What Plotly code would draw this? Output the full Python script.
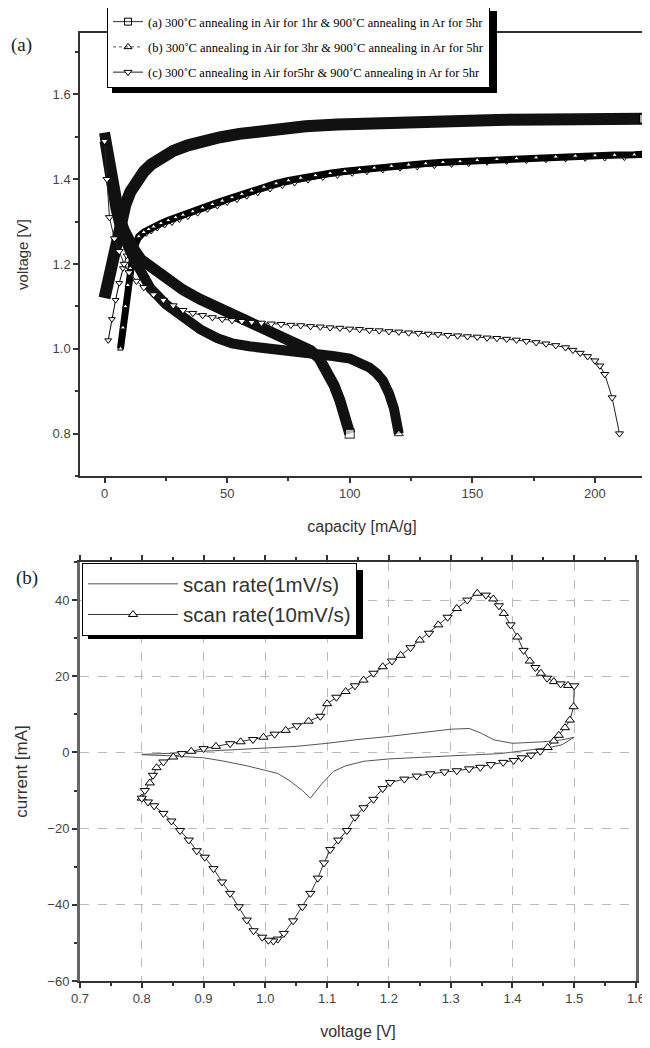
import plotly.graph_objects as go

# ---------------- panel (a): charge / discharge curves ----------------
# series (a): 1 hr air anneal (squares)
cap_a_dis = [0, 1, 2, 3, 4.5, 6, 8, 10, 12, 15, 18.7, 25, 32, 39, 46, 52, 59, 66, 73, 79, 84, 87.5, 90.6, 93.5, 96, 98, 100]
v_a_dis = [1.51, 1.47, 1.43, 1.395, 1.35, 1.315, 1.28, 1.255, 1.235, 1.21, 1.193, 1.163, 1.139, 1.117, 1.098, 1.08, 1.06, 1.043, 1.027, 1.012, 0.996, 0.978, 0.949, 0.915, 0.878, 0.84, 0.80]
cap_a_chg = [0, 1, 2, 3, 4, 5, 6, 7, 8.5, 10.5, 13, 16, 19, 23, 28, 34, 40, 47, 55, 63, 72, 82, 95, 110, 125, 140, 160, 180, 200, 220]
v_a_chg = [1.12, 1.15, 1.18, 1.21, 1.24, 1.265, 1.29, 1.31, 1.34, 1.37, 1.395, 1.418, 1.435, 1.452, 1.467, 1.48, 1.49, 1.499, 1.507, 1.514, 1.52, 1.525, 1.529, 1.533, 1.536, 1.538, 1.54, 1.541, 1.542, 1.543]

# series (b): 3 hr air anneal (up triangles)
cap_b_dis = [0, 1, 2, 3, 4.5, 6, 8, 10, 12, 15, 18.7, 25, 32, 39, 46, 52, 59, 66, 73, 80, 86.6, 93, 100, 104, 108, 111, 113.5, 116, 118, 120]
v_b_dis = [1.49, 1.45, 1.41, 1.375, 1.33, 1.295, 1.26, 1.235, 1.212, 1.175, 1.143, 1.105, 1.072, 1.046, 1.025, 1.013, 1.006, 1.002, 0.999, 0.994, 0.989, 0.983, 0.977, 0.968, 0.956, 0.942, 0.925, 0.895, 0.86, 0.80]
cap_b_chg = [6.5, 7.5, 8.5, 9.5, 10.5, 11.5, 12.5, 14, 16, 18, 20, 23, 26, 29, 32, 36, 40, 44, 48, 52, 56, 60, 65, 70, 75, 80, 86, 92, 98, 104, 110, 117, 124, 131, 138, 145, 152, 160, 168, 176, 184, 192, 200, 208, 216, 220]
v_b_chg = [1.00, 1.05, 1.10, 1.15, 1.19, 1.22, 1.245, 1.265, 1.275, 1.282, 1.288, 1.296, 1.303, 1.31, 1.316, 1.324, 1.333, 1.341, 1.349, 1.357, 1.365, 1.373, 1.382, 1.39, 1.397, 1.403, 1.409, 1.414, 1.419, 1.423, 1.427, 1.431, 1.434, 1.437, 1.44, 1.442, 1.445, 1.447, 1.449, 1.451, 1.453, 1.455, 1.456, 1.457, 1.458, 1.459]

# series (c): 5 hr air anneal (down triangles)
cap_c_dis = [0, 1, 2, 4, 6, 8, 10, 13, 16, 20,
             24, 28, 32, 36, 40, 44, 48, 52, 56, 60, 64, 68, 72, 76, 80, 84, 88, 92, 96, 100, 104,
             108, 112, 116, 120, 124, 128, 132, 136, 140, 144, 148, 152, 156, 160, 164, 168, 172, 176, 180,
             184, 188, 191, 194, 197, 200, 202, 204, 207, 210]
v_c_dis = [1.49, 1.40, 1.31, 1.26, 1.23, 1.20, 1.18, 1.16, 1.145, 1.128,
           1.115, 1.102, 1.091, 1.084, 1.079, 1.074, 1.07, 1.067, 1.065, 1.063, 1.061, 1.059, 1.058, 1.056, 1.055, 1.053, 1.052, 1.050, 1.049, 1.047, 1.046,
           1.044, 1.043, 1.041, 1.040, 1.038, 1.037, 1.035, 1.034, 1.032, 1.031, 1.029, 1.028, 1.026, 1.025, 1.023, 1.021, 1.018, 1.015, 1.012,
           1.008, 1.003, 0.997, 0.990, 0.982, 0.972, 0.960, 0.940, 0.885, 0.80]
cap_c_chg = [1.5, 3, 4.5, 6, 7.5, 9, 11, 13, 15, 17, 19, 21.5, 24.5, 27.5, 30.5, 34, 38, 42, 46, 50, 54, 58, 62.5, 67.5, 72.5, 77.5, 83, 89, 95, 101, 107, 113.5, 120.5, 127.5, 134.5, 141.5, 148.5, 156, 164, 172, 180, 188, 196, 204, 212, 220]
v_c_chg = [1.02, 1.07, 1.115, 1.155, 1.19, 1.22, 1.24, 1.255, 1.265, 1.272, 1.278, 1.285, 1.292, 1.298, 1.305, 1.312, 1.32, 1.329, 1.337, 1.345, 1.352, 1.36, 1.368, 1.377, 1.385, 1.391, 1.398, 1.404, 1.409, 1.414, 1.418, 1.422, 1.426, 1.429, 1.432, 1.435, 1.437, 1.44, 1.442, 1.444, 1.446, 1.448, 1.449, 1.45, 1.451, 1.452]

names_a = ["(a) 300\u02daC annealing in Air for 1hr & 900\u02daC annealing in Ar for 5hr",
           "(b) 300\u02daC annealing in Air for 3hr & 900\u02daC annealing in Ar for 5hr",
           "(c) 300\u02daC annealing in Air for5hr & 900\u02daC annealing in Ar for 5hr"]

# ---------------- panel (b): cyclic voltammetry ----------------
cv1_v = [0.80, 0.85, 0.90, 0.95, 1.00, 1.05, 1.10, 1.15, 1.20, 1.25, 1.30, 1.33, 1.35, 1.37, 1.40, 1.45, 1.48, 1.50,
         1.48, 1.46, 1.42, 1.38, 1.30, 1.25, 1.20, 1.16, 1.13, 1.11, 1.09, 1.073, 1.06, 1.04, 1.02, 1.00, 0.97, 0.93, 0.90, 0.85, 0.80]
cv1_i = [-0.5, -0.2, 0.3, 0.8, 1.2, 1.6, 2.4, 3.4, 4.2, 5.2, 6.1, 6.3, 5.0, 3.3, 2.4, 2.8, 3.3, 4.0,
         2.0, 1.3, 0.5, -0.3, -0.9, -1.3, -1.7, -2.3, -3.5, -5.0, -8.5, -12.0, -10.0, -7.5, -5.5, -4.7, -3.5, -2.2, -1.4, -0.9, -0.6]

cv10_v_up = [0.800, 0.805, 0.813, 0.818, 0.824, 0.835, 0.851, 0.865, 0.88, 0.90, 0.92, 0.943, 0.96, 0.98, 0.997, 1.015, 1.033, 1.051, 1.07, 1.089,
             1.10, 1.115, 1.13, 1.145, 1.159, 1.175, 1.19, 1.205, 1.219, 1.235, 1.25, 1.265, 1.28, 1.295, 1.31, 1.327, 1.343, 1.357, 1.369, 1.378,
             1.386, 1.397, 1.408, 1.418, 1.428, 1.437, 1.446, 1.456, 1.467, 1.478, 1.49, 1.50]
cv10_i_up = [-12, -10, -8, -6, -4, -2.5, -1.2, -0.3, 0.3, 1.0, 1.6, 2.3, 2.8, 3.4, 4.0, 4.8, 5.8, 7.0, 8.2, 9.5,
             12.8, 14.5, 16, 17.5, 19, 20.8, 22.5, 24, 25.5, 27.5, 29.5, 31.3, 33.5, 35.5, 37.8, 40, 41.8, 41.3, 40.3, 38.5,
             36.5, 33.5, 30.3, 26.8, 24, 22.3, 20.8, 19.5, 18.6, 18.0, 17.6, 17.5]
cv10_v_dn = [1.499, 1.493, 1.485, 1.475, 1.467, 1.457, 1.445, 1.43, 1.415, 1.402, 1.385, 1.365, 1.348, 1.33, 1.31, 1.29, 1.267, 1.245, 1.225, 1.202,
             1.19, 1.175, 1.159, 1.145, 1.132, 1.118, 1.105, 1.095, 1.085, 1.073, 1.06, 1.045, 1.03, 1.02, 1.013, 1.005, 0.995, 0.981, 0.97, 0.957,
             0.943, 0.93, 0.916, 0.902, 0.889, 0.876, 0.862, 0.848, 0.835, 0.82, 0.81, 0.80]
cv10_i_dn = [12, 8.5, 6.5, 4.5, 3, 1.3, 0.3, -0.7, -1.4, -2.1, -2.6, -3.2, -3.9, -4.3, -4.8, -5.1, -5.6, -6.2, -7, -7.9,
             -9.5, -12.3, -14.5, -17, -20.5, -23, -25.5, -29, -33, -37, -40.5, -44.2, -47.5, -49, -49.5, -49.3, -48.5, -46.8, -44, -40.5,
             -37, -34, -30.5, -27.5, -25.8, -23, -20.5, -18, -16, -14, -13, -12]

# page body adds an 8 px margin, so the figure is 8 px smaller than the window
OFF = 8
W, H = 650 - OFF, 1048 - OFF
def fx(p):
    return (p - OFF) / W
def fy(p):
    return 1 - (p - OFF) / H

fig = go.Figure()

def end_marker(n, size):
    return [0] * (n - 1) + [size], [0] * (n - 1) + [1.2]

# (c) charge (thin, hollow down triangles)
fig.add_trace(go.Scatter(x=cap_c_chg, y=v_c_chg, mode="lines+markers",
                         line=dict(color="black", width=1),
                         marker=dict(symbol="triangle-down", size=6, color="white",
                                     line=dict(color="black", width=1)),
                         showlegend=False, xaxis="x", yaxis="y", legendgroup="c"))
# (b) charge (dense triangles -> dark band with white dots)
fig.add_trace(go.Scatter(x=cap_b_chg, y=v_b_chg, mode="lines+markers",
                         line=dict(color="black", width=7),
                         marker=dict(symbol="triangle-up", size=5, color="white",
                                     line=dict(color="black", width=1)),
                         cliponaxis=False,
                         showlegend=False, xaxis="x", yaxis="y", legendgroup="b"))
# (b) discharge band
s, w = end_marker(len(cap_b_dis), 8)
fig.add_trace(go.Scatter(x=cap_b_dis, y=v_b_dis, mode="lines+markers",
                         line=dict(color="#111", width=10),
                         marker=dict(symbol="triangle-up", size=s, color="white",
                                     line=dict(color="black", width=w)),
                         showlegend=False, xaxis="x", yaxis="y", legendgroup="b"))
# (a) discharge band
s, w = end_marker(len(cap_a_dis), 9)
fig.add_trace(go.Scatter(x=cap_a_dis, y=v_a_dis, mode="lines+markers",
                         line=dict(color="#111", width=11),
                         marker=dict(symbol="square", size=s, color="white",
                                     line=dict(color="black", width=w)),
                         showlegend=False, xaxis="x", yaxis="y", legendgroup="a"))
# (a) charge band
s, w = end_marker(len(cap_a_chg), 9)
fig.add_trace(go.Scatter(x=cap_a_chg, y=v_a_chg, mode="lines+markers",
                         line=dict(color="#111", width=12),
                         marker=dict(symbol="square", size=s, color="white",
                                     line=dict(color="black", width=w)),
                         cliponaxis=False,
                         showlegend=False, xaxis="x", yaxis="y", legendgroup="a"))
# (c) discharge
fig.add_trace(go.Scatter(x=cap_c_dis, y=v_c_dis, mode="lines+markers", name=names_a[2],
                         line=dict(color="#222", width=1),
                         marker=dict(symbol="triangle-down", size=7, color="white",
                                     line=dict(color="black", width=1)),
                         xaxis="x", yaxis="y", legend="legend", legendgroup="c", legendrank=3))
# legend entries for (a) and (b)
fig.add_trace(go.Scatter(x=[None], y=[None], mode="lines+markers", name=names_a[0],
                         line=dict(color="#333", width=1),
                         marker=dict(symbol="square-open", size=7, color="black", line=dict(width=1)),
                         xaxis="x", yaxis="y", legend="legend", legendgroup="a", legendrank=1))
fig.add_trace(go.Scatter(x=[None], y=[None], mode="lines+markers", name=names_a[1],
                         line=dict(color="#555", width=1, dash="dot"),
                         marker=dict(symbol="triangle-up-open", size=7, color="black", line=dict(width=1)),
                         xaxis="x", yaxis="y", legend="legend", legendgroup="b", legendrank=2))

# ---- panel (b) traces
fig.add_trace(go.Scatter(x=cv1_v, y=cv1_i, mode="lines", name="scan rate(1mV/s)",
                         line=dict(color="#555", width=1),
                         xaxis="x2", yaxis="y2", legend="legend2", legendgroup="s1"))
cv10_v = cv10_v_up + cv10_v_dn
cv10_i = cv10_i_up + cv10_i_dn
sym = ["triangle-up"] + [("triangle-down" if k % 2 else "triangle-up") for k in range(1, len(cv10_v_up))] \
      + [("triangle-up" if k < 6 else "triangle-down") for k in range(len(cv10_v_dn))]
fig.add_trace(go.Scatter(x=cv10_v, y=cv10_i, mode="lines+markers", name="scan rate(10mV/s)",
                         line=dict(color="#333", width=1),
                         marker=dict(symbol=sym, size=8, color="white", line=dict(color="black", width=1)),
                         xaxis="x2", yaxis="y2", legend="legend2", legendgroup="s10"))

tickfont = dict(family="Liberation Sans, Arial", size=13, color="#444")
titlefont = dict(family="Liberation Sans, Arial", size=16, color="#333")

fig.update_layout(
    width=W, height=H,
    margin=dict(l=0, r=0, t=0, b=0, autoexpand=False),
    paper_bgcolor="white", plot_bgcolor="white",
    xaxis=dict(domain=[fx(80), fx(644)], range=[-10, 220], anchor="y",
               tickvals=[0, 50, 100, 150, 200], ticks="outside", ticklen=5, tickwidth=1.5,
               tickcolor="#333", showline=True, linecolor="#333", linewidth=1.5, mirror=True,
               showgrid=False, zeroline=False, tickfont=tickfont, automargin=False,
               minor=dict(ticks="outside", ticklen=3, tickcolor="#333", dtick=25, tick0=0, showgrid=False),
               title=dict(text="capacity [mA/g]", font=titlefont, standoff=20)),
    yaxis=dict(domain=[fy(476), fy(33)], range=[0.7, 1.745], anchor="x",
               tickvals=[0.8, 1.0, 1.2, 1.4, 1.6], ticktext=["0.8", "1.0", "1.2", "1.4", "1.6"],
               ticks="outside", ticklen=5, tickwidth=1.5, automargin=False,
               tickcolor="#333", showline=True, linecolor="#333", linewidth=1.5, mirror=True,
               showgrid=False, zeroline=False, tickfont=tickfont,
               minor=dict(ticks="outside", ticklen=3, tickcolor="#333", dtick=0.1, tick0=0.7, showgrid=False),
               title=dict(text="voltage [V]", font=dict(family="Liberation Sans, Arial", size=15, color="#333"), standoff=20)),
    xaxis2=dict(domain=[fx(80), fx(636)], range=[0.7, 1.6], anchor="y2",
                dtick=0.1, tick0=0.7, tickformat=".1f", ticks="outside", ticklen=5, tickwidth=1.5,
                tickcolor="#333", showline=True, linecolor="#333", linewidth=1.5, mirror="allticks",
                showgrid=True, gridcolor="#bbb", griddash="dash", gridwidth=1, automargin=False,
                zeroline=False, tickfont=tickfont,
                minor=dict(ticks="outside", ticklen=3, tickcolor="#333", dtick=0.05, tick0=0.7, showgrid=False),
                title=dict(text="voltage [V]", font=titlefont, standoff=20)),
    yaxis2=dict(domain=[fy(981), fy(562)], range=[-60, 50], anchor="x2",
                tickvals=[-60, -40, -20, 0, 20, 40], ticks="outside", ticklen=5, tickwidth=1.5,
                tickcolor="#333", showline=True, linecolor="#666", linewidth=3, mirror=True,
                showgrid=True, gridcolor="#bbb", griddash="dash", gridwidth=1, automargin=False,
                zeroline=False, tickfont=tickfont,
                minor=dict(ticks="outside", ticklen=3, tickcolor="#333", dtick=10, tick0=0, showgrid=False),
                title=dict(text="current [mA]", font=dict(family="Liberation Sans, Arial", size=17, color="#333"), standoff=16)),
    legend=dict(x=fx(107), y=fy(6), xanchor="left", yanchor="top",
                bgcolor="white", bordercolor="black", borderwidth=1,
                font=dict(family="Liberation Serif, Times New Roman", size=12.5, color="black"),
                tracegroupgap=6, traceorder="grouped"),
    legend2=dict(x=fx(82), y=fy(563), xanchor="left", yanchor="top",
                 bgcolor="white", bordercolor="black", borderwidth=1, itemwidth=90,
                 tracegroupgap=1,
                 font=dict(family="Liberation Sans, Arial", size=20.5, color="#333")),
    annotations=[
        dict(text="(a)", x=fx(9), y=fy(45), xref="paper", yref="paper", xanchor="left", yanchor="middle",
             showarrow=False, font=dict(family="Liberation Serif, Times New Roman", size=19, color="#222")),
        dict(text="(b)", x=fx(14), y=fy(578), xref="paper", yref="paper", xanchor="left", yanchor="middle",
             showarrow=False, font=dict(family="Liberation Serif, Times New Roman", size=19, color="#222")),
    ],
    shapes=[
        dict(type="rect", xref="paper", yref="paper", x0=fx(112), x1=fx(497), y0=fy(93), y1=fy(11),
             fillcolor="black", line=dict(width=0), layer="above"),
        dict(type="rect", xref="paper", yref="paper", x0=fx(88), x1=fx(363), y0=fy(639), y1=fy(570),
             fillcolor="black", line=dict(width=0), layer="above"),
    ],
)

fig.write_html("out.html")
